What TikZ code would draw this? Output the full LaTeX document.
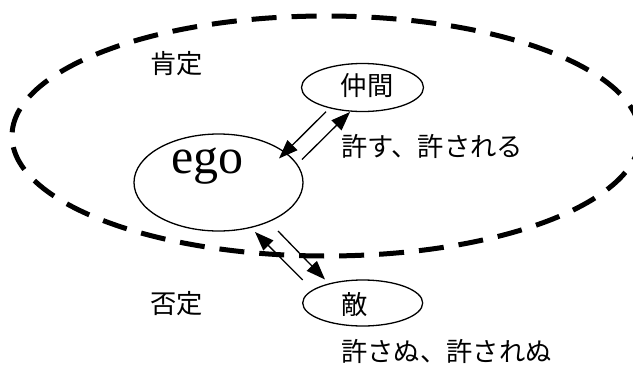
\documentclass[tikz,border=0pt]{standalone}
\usepackage{fontspec}
\setmainfont{Liberation Serif}
\newfontfamily\egofont{Liberation Serif}
\newfontfamily\jp{Noto Sans CJK JP}
\usetikzlibrary{shapes.geometric,arrows.meta}
\tikzset{
  oval/.style={draw, ellipse, line width=1.3pt, inner sep=0pt},
  jtext/.style={font=\jp\fontsize{26.3}{30}\selectfont, inner sep=0pt},
  conn/.style={line width=1.3pt, -{Triangle[length=19pt,width=14pt]}},
  zone/.style={line width=5pt, dash pattern=on 25pt off 15pt}
}
\begin{document}
\begin{tikzpicture}[x=1pt,y=-1pt]
\useasboundingbox (0,0) rectangle (633,365);
% dashed region
\draw[zone] (326,136) ellipse [x radius=314, y radius=120];
% nodes
\node[oval, minimum width=169pt, minimum height=97pt] (ego) at (218.5,182.5) {};
\node[anchor=base, font=\egofont\fontsize{50}{55}\selectfont, inner sep=0pt] (egotext) at (207.5,173) {ego};
\node[oval, minimum width=122pt, minimum height=48pt] (friend) at (362.5,87.5) {};
\node[jtext] (friendtext) at (367,86) {仲間};
\node[oval, minimum width=120pt, minimum height=46pt] (enemy) at (362.7,303) {};
\node[jtext] (enemytext) at (354.5,305) {敵};
% labels
\node[jtext] (pos) at (176.7,64) {肯定};
\node[jtext] (neg) at (176.7,304) {否定};
\node[jtext, anchor=west] (forgive) at (341,146.5) {許す、許される};
\node[jtext, anchor=west] (unforgive) at (341,351.5) {許さぬ、許されぬ};
% connector end points on the ellipses
\coordinate (f1) at (326,111.7);
\coordinate (f2) at (350,112);
\coordinate (e1) at (279,158.5);
\coordinate (e2) at (302,159.5);
\coordinate (e3) at (255,232);
\coordinate (e4) at (278,231);
\coordinate (n1) at (302.7,280);
\coordinate (n2) at (325,279.5);
% connectors
\draw[conn] (f1) -- (e1);
\draw[conn] (e2) -- (f2);
\draw[conn] (n1) -- (e3);
\draw[conn] (e4) -- (n2);
\end{tikzpicture}
\end{document}
